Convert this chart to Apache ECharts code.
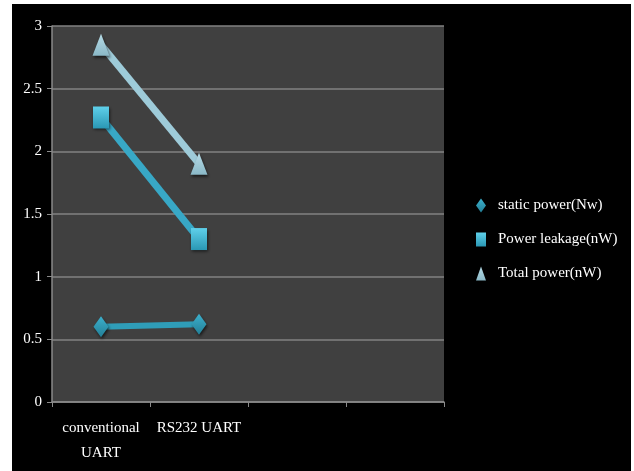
<!DOCTYPE html>
<html>
<head>
<meta charset="utf-8">
<script src="https://cdn.jsdelivr.net/npm/echarts@6/dist/echarts.min.js"></script>
<style>
  html, body { margin: 0; padding: 0; background: #ffffff; width: 634px; height: 471px; overflow: hidden; }
  #chart { position: absolute; left: 12px; top: 4px; width: 619px; height: 467px; background: #000; }
</style>
</head>
<body>
<div id="chart"></div>
<script>
// Categories along the x axis (two trailing empty slots keep the plot width)
const categories = ['conventional\nUART', 'RS232 UART', '', ''];

// Series values
const staticPower = [0.60, 0.62];
const powerLeakage = [2.27, 1.30];
const totalPower = [2.85, 1.90];

// Y axis range
const yMin = 0, yMax = 3, yStep = 0.5;

const FONT = '"Liberation Serif", "Times New Roman", serif';

function shade(top, bottom) {
  return new echarts.graphic.LinearGradient(0, 0, 0, 1, [
    { offset: 0, color: top },
    { offset: 1, color: bottom }
  ]);
}

const chart = echarts.init(document.getElementById('chart'), null, { renderer: 'canvas' });

const markerShadow = { shadowBlur: 3, shadowColor: 'rgba(0,0,0,0.6)', shadowOffsetX: 1, shadowOffsetY: 2 };

chart.setOption({
  backgroundColor: '#000000',
  animation: false,
  grid: {
    left: 40, top: 22, width: 392, height: 376,
    show: true, backgroundColor: '#404040', borderWidth: 0
  },
  xAxis: {
    type: 'category',
    data: categories,
    boundaryGap: true,
    axisLine: { lineStyle: { color: '#8a8a8a', width: 1.5 } },
    axisTick: { show: true, length: 5, alignWithLabel: false, lineStyle: { color: '#8a8a8a' } },
    axisLabel: {
      color: '#ffffff', fontFamily: FONT, fontSize: 15, lineHeight: 25, margin: 14,
      interval: 0
    }
  },
  yAxis: {
    type: 'value',
    min: yMin, max: yMax, interval: yStep,
    axisLine: { show: true, lineStyle: { color: '#8a8a8a', width: 1.5 } },
    axisTick: { show: true, length: 5, lineStyle: { color: '#8a8a8a' } },
    axisLabel: { color: '#ffffff', fontFamily: FONT, fontSize: 15, margin: 10 },
    splitLine: { show: true, lineStyle: { color: '#828282', width: 1.5 } }
  },
  legend: {
    orient: 'vertical',
    left: 459, top: 189,
    itemWidth: 10, itemHeight: 14, itemGap: 19,
    textStyle: { color: '#ffffff', fontFamily: FONT, fontSize: 15, padding: [0, 0, 0, 7] },
    data: [
      { name: 'static power(Nw)', icon: 'diamond' },
      { name: 'Power leakage(nW)', icon: 'rect' },
      { name: 'Total power(nW)', icon: 'triangle' }
    ]
  },
  series: [
    {
      name: 'static power(Nw)',
      type: 'line',
      data: staticPower,
      symbol: 'diamond',
      symbolSize: [15, 21],
      lineStyle: { color: '#2f9db8', width: 6 },
      itemStyle: Object.assign({ color: shade('#3cb0cc', '#237f97') }, markerShadow),
      z: 3
    },
    {
      name: 'Power leakage(nW)',
      type: 'line',
      data: powerLeakage,
      symbol: 'rect',
      symbolSize: [16, 22],
      lineStyle: { color: '#38a8c6', width: 7 },
      itemStyle: Object.assign({ color: shade('#5fd0ea', '#2a97b4') }, markerShadow),
      z: 4
    },
    {
      name: 'Total power(nW)',
      type: 'line',
      data: totalPower,
      symbol: 'triangle',
      symbolSize: [17, 22],
      lineStyle: { color: '#9ecbd9', width: 7 },
      itemStyle: Object.assign({ color: shade('#b6dbe6', '#8ab8c7') }, markerShadow),
      z: 5
    }
  ]
});
</script>
</body>
</html>
